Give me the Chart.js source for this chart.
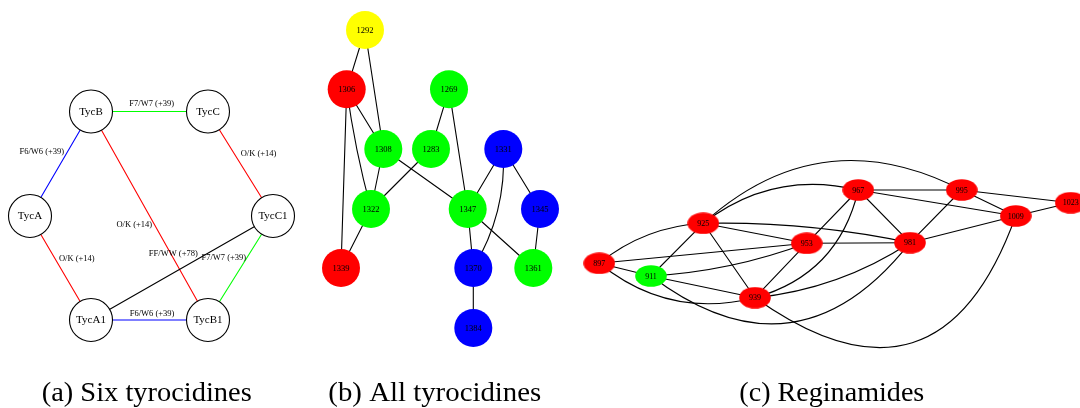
<!DOCTYPE html>
<html><head><meta charset="utf-8">
<script src="https://cdn.jsdelivr.net/npm/chart.js@4.4.1/dist/chart.umd.min.js"></script>
<style>html,body{margin:0;padding:0;background:#fff;overflow:hidden}canvas{display:block}</style>
</head><body>
<canvas id="c" width="1080" height="408"></canvas>
<script>
// ================= DATA =================
// (a) Six tyrocidines
const tycNames = ['TycA','TycB','TycC','TycC1','TycA1','TycB1'];
const tycX = [30, 91, 208, 273, 91, 208];
const tycY = [216, 111.5, 111.5, 216, 320, 320];
const tycEdgeFrom  = ['TycB','TycA','TycC','TycB','TycA','TycC1','TycC1','TycA1'];
const tycEdgeTo    = ['TycC','TycB','TycC1','TycB1','TycA1','TycA1','TycB1','TycB1'];
const tycEdgeType  = ['F7/W7','F6/W6','O/K','O/K','O/K','FF/WW','F7/W7','F6/W6'];
const tycEdgeShift = ['+39','+39','+14','+14','+14','+78','+39','+39'];

// (b) All tyrocidines
const allNames = ['1292','1306','1269','1308','1283','1331','1322','1347','1345','1339','1370','1361','1384'];
const allX = [365, 346.7, 449, 383.3, 431, 503.3, 371, 467.7, 540, 341, 473.3, 533.3, 473.3];
const allY = [30, 89.3, 89.3, 149, 149, 149, 209, 209, 209, 268, 268, 268, 328];
const allGroup = ['Y','R','G','G','G','B','G','G','B','R','B','G','B'];
const allEdgeFrom = ['1292','1292','1306','1306','1306','1308','1308','1269','1269','1283','1322','1331','1331','1331','1347','1347','1345','1370'];
const allEdgeTo   = ['1306','1308','1308','1322','1339','1322','1347','1283','1347','1322','1339','1347','1370','1345','1370','1361','1361','1384'];

// (c) Reginamides
const regNames = ['897','911','925','939','953','967','981','995','1009','1023'];
const regX = [599.3, 651, 703.3, 755, 806.7, 858.3, 910, 961.7, 1015.7, 1070.7];
const regY = [263.3, 276, 223.3, 297.7, 243.3, 190, 242.7, 190, 216, 202.7];
const regGroup = ['R','G','R','R','R','R','R','R','R','R'];
const regEdgeFrom = ['897','897','897','897','911','911','911','911','925','925','925','925','925','939','939','939','939','953','953','967','967','967','995','995','995','1009','1009'];
const regEdgeTo   = ['925','953','911','939','925','953','939','981','967','995','953','981','939','953','967','981','1009','967','981','995','981','1009','981','1009','1023','981','1023'];

// Captions
const captions = ['(a) Six tyrocidines', '(b) All tyrocidines', '(c) Reginamides'];

// ================= LAYOUT / STYLE =================
const typeColor = {'F7/W7':'#00ff00','F6/W6':'#0000ff','O/K':'#ff0000','FF/WW':'#000000'};
const groupColor = {Y:'#ffff00', R:'#ff0000', G:'#00ff00', B:'#0000ff'};
const tycLabelPos = [[151.7,104],[41.8,151.7],[258.5,153.3],[134.3,224.3],[76.8,258.3],[173.3,254],[223.8,257.3],[152,313.3]];
// perpendicular bend (px) of curved edges, keyed "from-to"
const edgeBend = {'1306-1322':2,'1331-1370':-9.5,
  '897-925':-9,'897-939':20,'911-953':6,'911-981':64,'925-967':-19,'925-995':-45,
  '925-981':-6,'939-967':22,'939-981':10,'939-1009':90};
const captionLayout = [[41.7,210],[328.3,213],[739.3,185]];
const captionBaseline = 401;
const serif = '"Liberation Serif","Times New Roman",serif';

function ellipseImg(color){
  const c = document.createElement('canvas'); c.width = 32; c.height = 22;
  const g = c.getContext('2d'); g.fillStyle = color; g.beginPath();
  g.ellipse(16, 11, 15.8, 10.8, 0, 0, Math.PI*2); g.fill(); return c;
}
const ellipseCache = {};
function ellipseFor(grp){ return ellipseCache[grp] || (ellipseCache[grp] = ellipseImg(groupColor[grp])); }

const pts = (names, xs, ys) => names.map((n,i)=>({x:xs[i], y:ys[i], name:n}));
const tycPts = pts(tycNames, tycX, tycY);
const allPts = pts(allNames, allX, allY);
const regPts = pts(regNames, regX, regY);
const lookup = (P) => Object.fromEntries(P.map(p=>[p.name,p]));
const tycMap = lookup(tycPts), allMap = lookup(allPts), regMap = lookup(regPts);

const edgeSets = [
  {map:tycMap, from:tycEdgeFrom, to:tycEdgeTo, color:(i)=>typeColor[tycEdgeType[i]]},
  {map:allMap, from:allEdgeFrom, to:allEdgeTo, color:()=> '#000'},
  {map:regMap, from:regEdgeFrom, to:regEdgeTo, color:()=> '#000'}
];

const edgesPlugin = {
  id:'edges',
  beforeDatasetsDraw(chart){
    const {ctx, scales:{x, y}} = chart;
    ctx.save(); ctx.lineWidth = 1.1; ctx.lineCap = 'round';
    edgeSets.forEach(set=>{
      set.from.forEach((f,i)=>{
        const a = set.map[f], b = set.map[set.to[i]];
        const x0 = x.getPixelForValue(a.x), y0 = y.getPixelForValue(a.y);
        const x3 = x.getPixelForValue(b.x), y3 = y.getPixelForValue(b.y);
        const bend = edgeBend[f+'-'+set.to[i]] || 0;
        ctx.strokeStyle = set.color(i);
        ctx.beginPath(); ctx.moveTo(x0,y0);
        if (bend){
          const dx = x3-x0, dy = y3-y0, L = Math.hypot(dx,dy);
          const nx = -dy/L, ny = dx/L, k = bend/0.75;
          ctx.bezierCurveTo(x0+dx/3+nx*k, y0+dy/3+ny*k, x0+2*dx/3+nx*k, y0+2*dy/3+ny*k, x3, y3);
        } else ctx.lineTo(x3,y3);
        ctx.stroke();
      });
    });
    ctx.restore();
  }
};

const labelsPlugin = {
  id:'labels',
  afterDatasetsDraw(chart){
    const {ctx, scales:{x, y}} = chart;
    ctx.save(); ctx.fillStyle = '#000'; ctx.textAlign = 'center'; ctx.textBaseline = 'middle';
    const fonts = ['11px '+serif, '8.5px '+serif, '8px '+serif];
    chart.data.datasets.forEach((ds, di)=>{
      const meta = chart.getDatasetMeta(di);
      ctx.font = fonts[di];
      ds.data.forEach((p, i)=>{ const el = meta.data[i]; ctx.fillText(p.name, el.x, el.y+0.5); });
    });
    ctx.font = '8.5px '+serif;
    tycEdgeType.forEach((t,i)=>{
      ctx.fillText(t+' ('+tycEdgeShift[i]+')', x.getPixelForValue(tycLabelPos[i][0]), y.getPixelForValue(tycLabelPos[i][1]));
    });
    // captions
    ctx.textAlign = 'left'; ctx.textBaseline = 'alphabetic'; ctx.font = '28px '+serif;
    captions.forEach((t,i)=>{
      const [cx, w] = captionLayout[i]; const m = ctx.measureText(t).width;
      ctx.save(); ctx.translate(x.getPixelForValue(cx), y.getPixelForValue(captionBaseline));
      ctx.scale(w/m, 1); ctx.fillText(t, 0, 0); ctx.restore();
    });
    ctx.restore();
  }
};

new Chart(document.getElementById('c'), {
  type:'scatter',
  data:{ datasets:[
    {data:tycPts, pointStyle:'circle', pointRadius:21.5, pointHoverRadius:21.5,
     backgroundColor:'#ffffff', borderColor:'#000000', borderWidth:1.1, pointHoverBorderWidth:1.1},
    {data:allPts, pointStyle:'circle', pointRadius:19, pointHoverRadius:19,
     backgroundColor:allGroup.map(g=>groupColor[g]), borderWidth:0},
    {data:regPts, pointStyle:regGroup.map(ellipseFor), pointRadius:16, borderWidth:0}
  ]},
  options:{
    responsive:false, animation:false, devicePixelRatio:1, events:[],
    layout:{padding:0, autoPadding:false},
    plugins:{legend:{display:false}, tooltip:{enabled:false}, title:{display:false}},
    scales:{
      x:{type:'linear', min:0, max:1080, display:false},
      y:{type:'linear', min:0, max:408, reverse:true, display:false}
    },
    elements:{point:{hitRadius:0}},
    datasets:{scatter:{clip:false}}
  },
  plugins:[edgesPlugin, labelsPlugin]
});
</script>
</body></html>
